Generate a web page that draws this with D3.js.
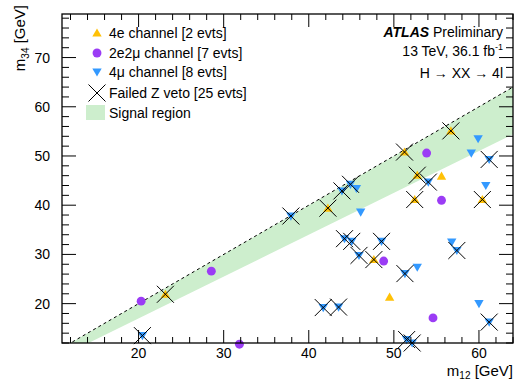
<!DOCTYPE html>
<html>
<head>
<meta charset="utf-8">
<script src="https://cdn.jsdelivr.net/npm/d3@7"></script>
<style>
  body { margin: 0; background: #fff; }
  svg text { font-family: "Liberation Sans", Arial, Helvetica, sans-serif; }
</style>
</head>
<body>
<figure id="scatter" style="margin:0"></figure>
<script>
// channel events passing the Z veto: [m12, m34]
const fourE = [[49.5, 21.3], [55.6, 45.9]];
const twoE2Mu = [[20.3, 20.5], [28.55, 26.6], [31.85, 11.75], [48.8, 28.65],
                 [53.85, 50.6], [55.6, 41.0], [54.6, 17.1]];
const fourMu = [[45.6, 43.4], [46.1, 38.6], [52.75, 27.4], [56.8, 32.5],
                [59.9, 53.5], [59.1, 50.6], [60.8, 44.0], [60.0, 20.0]];
// events failing the Z veto: [m12, m34, channel]
const failedZ = [
  [20.45, 13.5, '4mu'], [23.15, 21.9, '4e'], [37.9, 37.8, '4mu'], [42.25, 39.4, '4e'],
  [43.9, 42.9, '4mu'], [44.9, 44.25, '4mu'], [44.2, 33.2, '4mu'], [45.05, 32.65, '4mu'],
  [48.55, 32.65, '4mu'], [45.9, 29.8, '4mu'], [47.65, 28.95, '4e'], [51.3, 26.1, '4mu'],
  [41.7, 19.2, '4mu'], [43.5, 19.3, '4mu'], [51.5, 12.7, '4mu'], [52.15, 12.0, '4mu'],
  [61.2, 16.25, '4mu'], [57.4, 30.8, '4mu'], [51.25, 50.8, '4e'], [56.7, 55.1, '4e'],
  [61.2, 49.3, '4mu'], [52.75, 46.1, '4e'], [54.05, 44.7, '4mu'], [52.45, 41.15, '4e'],
  [60.4, 41.15, '4e']
];
const xTicks = [20, 30, 40, 50, 60];
const yTicks = [20, 30, 40, 50, 60, 70];
const legendLabels = ['4e channel [2 evts]', '2e2\u03bc channel [7 evts]', '4\u03bc channel [8 evts]',
                      'Failed Z veto [25 evts]', 'Signal region'];
const srRatio = 0.85; // signal region: 0.85 m12 < m34 < m12

const W = 517, H = 381;
const margin = { left: 62, right: 4, top: 14, bottom: 38 };
const width = W - margin.left - margin.right;
const height = H - margin.top - margin.bottom;

const colors = { '4e': '#ffc107', '2e2mu': '#9b3cf5', '4mu': '#3399ff', sr: '#cdeecd' };

const svg = d3.select('figure#scatter').append('svg')
  .attr('width', W).attr('height', H);

const defs = svg.append('defs');
defs.append('clipPath').attr('id', 'clip')
  .append('rect').attr('width', width).attr('height', height);

const g = svg.append('g').attr('transform', `translate(${margin.left},${margin.top})`);

const x = d3.scaleLinear().domain([11, 64]).range([0, width]);
const y = d3.scaleLinear().domain([12, 78.85]).range([height, 0]);

// signal region band + diagonal
const plot = g.append('g').attr('clip-path', 'url(#clip)');
const bandX = [11, 64];
const band = [...bandX.map(v => [v, v]), ...bandX.slice().reverse().map(v => [v, v * srRatio])];
plot.append('path')
  .attr('d', d3.line().x(d => x(d[0])).y(d => y(d[1]))(band) + 'Z')
  .attr('fill', colors.sr);
plot.append('line')
  .attr('x1', x(11)).attr('y1', y(11)).attr('x2', x(64)).attr('y2', y(64))
  .attr('stroke', '#000').attr('stroke-width', 1).attr('stroke-dasharray', '3,3');

const triUp = d3.symbol().type(d3.symbolTriangle).size(38);
const circ = d3.symbol().type(d3.symbolCircle).size(62);
const triDown = d3.symbol().type(d3.symbolTriangle).size(38);
const xSize = 8.5;

function marker(sel, ch) {
  if (ch === '4e') {
    sel.append('path').attr('d', triUp()).attr('transform', 'translate(0,0.8)').attr('fill', colors['4e']);
  } else if (ch === '2e2mu') {
    sel.append('path').attr('d', circ()).attr('fill', colors['2e2mu']);
  } else {
    sel.append('path').attr('d', triDown()).attr('transform', 'translate(0,-0.8) rotate(180)').attr('fill', colors['4mu']);
  }
}
function cross(sel) {
  sel.append('path')
    .attr('d', `M${-xSize},${-xSize}L${xSize},${xSize}M${-xSize},${xSize}L${xSize},${-xSize}`)
    .attr('stroke', '#000').attr('stroke-width', 1).attr('fill', 'none');
}

const pts = g.append('g');
[[fourE, '4e'], [twoE2Mu, '2e2mu'], [fourMu, '4mu']].forEach(([arr, ch]) => {
  arr.forEach(d => {
    const p = pts.append('g').attr('transform', `translate(${x(d[0])},${y(d[1])})`);
    marker(p, ch);
  });
});
failedZ.forEach(d => {
  const p = pts.append('g').attr('transform', `translate(${x(d[0])},${y(d[1])})`);
  marker(p, d[2]);
  cross(p);
});

// frame and ticks (ROOT style, inside, on all four sides)
g.append('rect').attr('width', width).attr('height', height)
  .attr('fill', 'none').attr('stroke', '#000').attr('stroke-width', 1.3);

const xMinor = d3.range(12, 65, 2);
const yMinor = d3.range(12, 79, 2);
const ticks = g.append('g').attr('stroke', '#000').attr('stroke-width', 1);
xMinor.forEach(v => {
  const L = xTicks.includes(v) ? 13 : 6;
  ticks.append('line').attr('x1', x(v)).attr('x2', x(v)).attr('y1', height).attr('y2', height - L);
  ticks.append('line').attr('x1', x(v)).attr('x2', x(v)).attr('y1', 0).attr('y2', L);
});
yMinor.forEach(v => {
  const L = yTicks.includes(v) ? 14 : 7;
  ticks.append('line').attr('x1', 0).attr('x2', L).attr('y1', y(v)).attr('y2', y(v));
  ticks.append('line').attr('x1', width).attr('x2', width - L).attr('y1', y(v)).attr('y2', y(v));
});

g.selectAll('.xlab').data(xTicks).enter().append('text')
  .attr('x', d => x(d)).attr('y', height + 15)
  .attr('text-anchor', 'middle').attr('font-size', 14).text(d => d);
g.selectAll('.ylab').data(yTicks).enter().append('text')
  .attr('x', -12).attr('y', d => y(d) + 5)
  .attr('text-anchor', 'end').attr('font-size', 14).text(d => d);

// axis titles
const xt = svg.append('text').attr('x', 513).attr('y', 376)
  .attr('text-anchor', 'end').attr('font-size', 15);
xt.append('tspan').text('m');
xt.append('tspan').attr('font-size', 10).attr('dy', 3).text('12');
xt.append('tspan').attr('dy', -3).text(' [GeV]');

const yt = svg.append('text').attr('transform', 'translate(25,5) rotate(-90)')
  .attr('text-anchor', 'end').attr('font-size', 15);
yt.append('tspan').text('m');
yt.append('tspan').attr('font-size', 10).attr('dy', 4).text('34');
yt.append('tspan').attr('dy', -4).text(' [GeV]');

// ATLAS label
const lab = svg.append('g').attr('font-size', 14).attr('text-anchor', 'end');
const l1 = lab.append('text').attr('x', 503).attr('y', 37);
l1.append('tspan').attr('font-weight', 'bold').attr('font-style', 'italic').text('ATLAS');
l1.append('tspan').text(' Preliminary');
const l2 = lab.append('text').attr('x', 503).attr('y', 56);
l2.append('tspan').text('13 TeV, 36.1 fb');
l2.append('tspan').attr('font-size', 9).attr('dy', -6).text('-1');
lab.append('text').attr('x', 503).attr('y', 78).text('H \u2192 XX \u2192 4l');

// legend
const leg = svg.append('g');
const legY = [33, 53, 72, 93, 113];
legendLabels.forEach((t, i) => {
  const row = leg.append('g').attr('transform', `translate(97,${legY[i]})`);
  if (i === 0) marker(row, '4e');
  if (i === 1) marker(row, '2e2mu');
  if (i === 2) marker(row, '4mu');
  if (i === 3) cross(row);
  if (i === 4) row.append('rect').attr('x', -11).attr('y', -8).attr('width', 19).attr('height', 15).attr('fill', colors.sr);
  row.append('text').attr('x', 12).attr('y', 5).attr('font-size', 14).text(t);
});
</script>
</body>
</html>
